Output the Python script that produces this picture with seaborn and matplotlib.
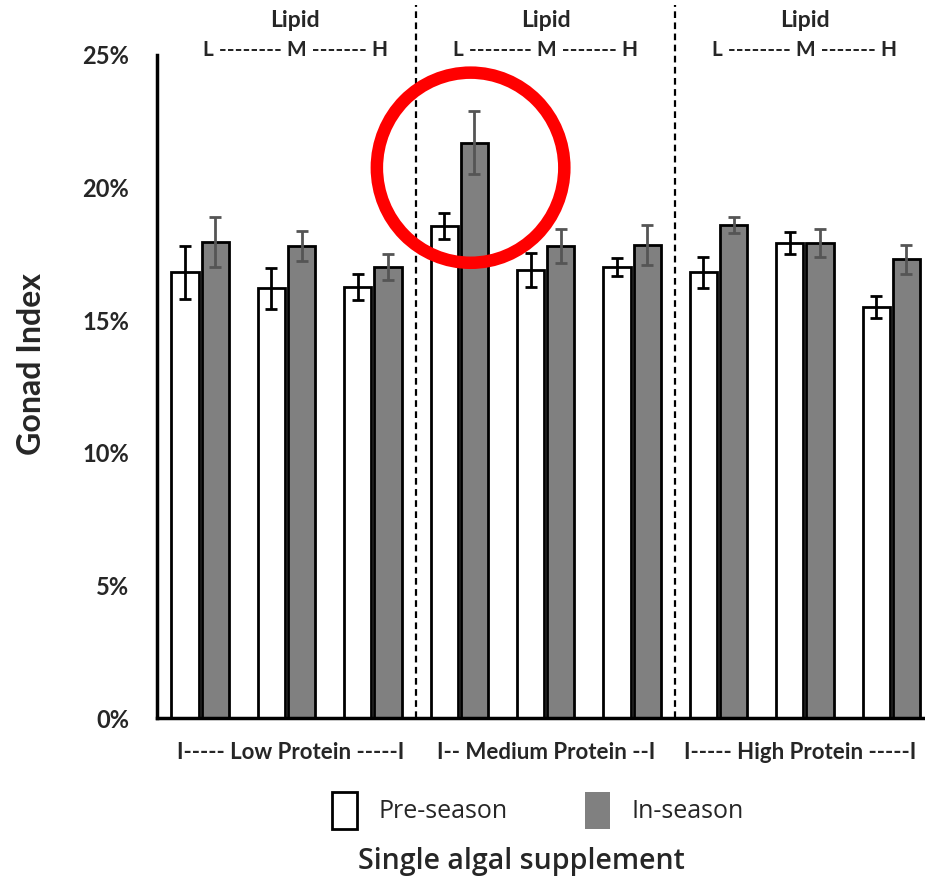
import numpy as np
import pandas as pd
import matplotlib
matplotlib.use("Agg")
import matplotlib.pyplot as plt
import seaborn as sns
from matplotlib.patches import Ellipse
from matplotlib.ticker import PercentFormatter
import matplotlib.transforms as mtransforms

# ---- data ----
categories = ["LP-L", "LP-M", "LP-H", "MP-L", "MP-M", "MP-H", "HP-L", "HP-M", "HP-H"]
pre_season = [16.8, 16.2, 16.25, 18.55, 16.9, 17.0, 16.8, 17.9, 15.5]
pre_err = [1.0, 0.77, 0.5, 0.5, 0.65, 0.33, 0.6, 0.42, 0.42]
in_season = [17.95, 17.8, 17.0, 21.7, 17.8, 17.85, 18.6, 17.9, 17.3]
in_err = [0.93, 0.55, 0.5, 1.17, 0.65, 0.75, 0.3, 0.53, 0.55]
seasons = ["Pre-season", "In-season"]
group_labels = ["I----- Low Protein -----I", "I-- Medium Protein --I", "I----- High Protein -----I"]
lipid_title = "Lipid"
lipid_scale = "L -------- M ------- H"
y_ticks = [0, 5, 10, 15, 20, 25]

df = pd.DataFrame({
    "category": categories * 2,
    "season": [seasons[0]] * len(categories) + [seasons[1]] * len(categories),
    "value": pre_season + in_season,
})

sns.set_style("white")
plt.rcParams["font.family"] = ["Lato", "DejaVu Sans"]

fig = plt.figure(figsize=(9.25, 8.83), dpi=100)
ax = fig.add_axes([157 / 925, 1 - 718 / 883, (925 - 157) / 925, 663 / 883])

sns.barplot(data=df, x="category", y="value", hue="season", order=categories,
            hue_order=seasons, palette={"Pre-season": "white", "In-season": "#808080"},
            edgecolor="black", linewidth=2.0, width=0.7, gap=0.1, errorbar=None,
            legend=False, ax=ax)

err_colors = ["black", "#555555"]
for cont, errs, col in zip(ax.containers, [pre_err, in_err], err_colors):
    xs = [p.get_x() + p.get_width() / 2 for p in cont.patches]
    ys = [p.get_height() for p in cont.patches]
    ax.errorbar(xs, ys, yerr=errs, fmt="none", ecolor=col, elinewidth=2.0,
                capsize=4, capthick=2.0, zorder=5)

ax.set_ylim(0, 25)
ax.set_xlim(-0.5, 8.39)
ax.set_yticks(y_ticks)
ax.yaxis.set_major_formatter(PercentFormatter(xmax=100, decimals=0))
ax.set_xticks([1.05, 4, 6.95])
ax.set_xticklabels(group_labels)
ax.tick_params(axis="both", length=0)
ax.tick_params(axis="y", pad=20, labelsize=17)
ax.tick_params(axis="x", pad=17, labelsize=16)
for lab in ax.get_xticklabels() + ax.get_yticklabels():
    lab.set_fontweight("bold")

for side in ["top", "right"]:
    ax.spines[side].set_visible(False)
for side in ["left", "bottom"]:
    ax.spines[side].set_color("black")
    ax.spines[side].set_linewidth(2.5)

ax.set_xlabel("")
ax.set_ylabel("Gonad Index", fontsize=23, fontweight="bold")
ax.yaxis.set_label_coords(-0.145, 0.534)

# dashed separators
for xv in [2.5, 5.5]:
    ax.axvline(xv, ymin=0, ymax=1.075, color="black", linestyle=(0, (3, 2)),
               linewidth=1.6, clip_on=False, zorder=1)

# lipid headers
trans = mtransforms.blended_transform_factory(ax.transData, ax.transAxes)
for xc in [1.1, 4.0, 7.0]:
    ax.text(xc, 1.052, lipid_title, transform=trans, ha="center", va="center",
            fontsize=16.5, fontweight="bold", clip_on=False)
    ax.text(xc, 1.007, lipid_scale, transform=trans, ha="center", va="center",
            fontsize=15, fontweight="bold", clip_on=False)

# red highlight circle
ell = Ellipse((3.13, 20.75), width=2.17, height=7.17, fill=False, edgecolor="#ff0000",
              linewidth=9, clip_on=False, zorder=6)
ax.add_patch(ell)

# legend
handles = [plt.Rectangle((0, 0), 1, 1, facecolor="white", edgecolor="black", linewidth=2),
           plt.Rectangle((0, 0), 1, 1, facecolor="#808080", edgecolor="#808080", linewidth=0)]
fig.legend(handles, seasons, loc="center", bbox_to_anchor=(538 / 925, 1 - 810 / 883),
           ncol=2, frameon=False, handlelength=1.0, handleheight=1.9, handletextpad=0.85,
           columnspacing=3.1, prop={"family": ["Open Sans", "DejaVu Sans"], "size": 18})

fig.text(521 / 925, 1 - 862 / 883, "Single algal supplement", ha="center", va="center",
         fontsize=20.5, fontweight="semibold", family=["Open Sans", "DejaVu Sans"])

fig.savefig("out.png", dpi=100)
